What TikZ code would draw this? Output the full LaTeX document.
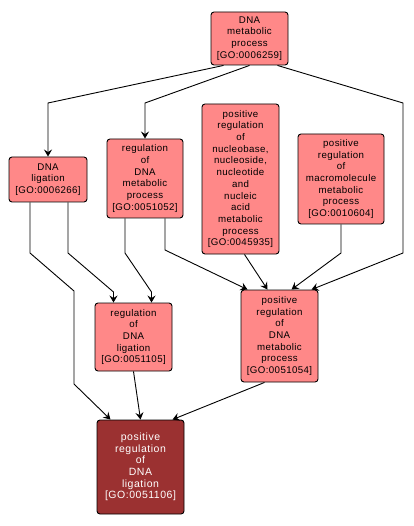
\documentclass[tikz,border=0pt]{standalone}
\usepackage{fontspec}
\usepackage{xcolor}
\usepackage{tikz}
\usetikzlibrary{arrows.meta}

\newfontfamily\gofont{Liberation Sans}[LetterSpace=4.0]
\newfontfamily\gofontwide{Liberation Sans}[LetterSpace=5.0]
\definecolor{goPink}{RGB}{255,136,136}
\definecolor{goDark}{RGB}{155,49,49}

\begin{document}
\begin{tikzpicture}[
    x=1pt, y=-1pt,
    every node/.style={inner sep=0pt, align=center},
    term/.style={draw=black, line width=0.9pt, fill=goPink, rounded corners=3pt,
        font={\gofont\fontsize{9.7}{11.7}\selectfont}},
    goal/.style={draw=black, line width=0.9pt, fill=goDark, rounded corners=3pt, text=white,
        font={\gofontwide\fontsize{10.5}{11.7}\selectfont}},
    edge/.style={-{Stealth[length=7pt,width=8pt,inset=2.5pt]}, line width=0.9pt}
]
    \useasboundingbox (0,0) rectangle (413,526);

    % terms
    \node[term, minimum width=77pt, minimum height=53pt]  (n6259)  at (249.5,38.5) {DNA\\metabolic\\process\\{[}GO:0006259{]}};
    \node[term, minimum width=78pt, minimum height=45pt]  (n6266)  at (48,179.5)   {DNA\\ligation\\{[}GO:0006266{]}};
    \node[term, minimum width=76pt, minimum height=79pt]  (n51052) at (145,178.5)  {regulation\\of\\DNA\\metabolic\\process\\{[}GO:0051052{]}};
    \node[term, minimum width=77pt, minimum height=150pt] (n45935) at (240.5,179)  {positive\\regulation\\of\\nucleobase,\\nucleoside,\\nucleotide\\and\\nucleic\\acid\\metabolic\\process\\{[}GO:0045935{]}};
    \node[term, minimum width=86pt, minimum height=90pt]  (n10604) at (341,179)    {positive\\regulation\\of\\macromolecule\\metabolic\\process\\{[}GO:0010604{]}};
    \node[term, minimum width=77pt, minimum height=68pt]  (n51105) at (133.5,337)  {regulation\\of\\DNA\\ligation\\{[}GO:0051105{]}};
    \node[term, minimum width=77pt, minimum height=92pt]  (n51054) at (279.5,336)  {positive\\regulation\\of\\DNA\\metabolic\\process\\{[}GO:0051054{]}};
    \node[goal, minimum width=87pt, minimum height=94pt]  (n51106) at (140.5,467)  {positive\\regulation\\of\\DNA\\ligation\\{[}GO:0051106{]}};

    % is_a / regulates links
    \draw[edge] ([xshift=-26pt]n6259.south) -- (48,103) -- (n6266.north);
    \draw[edge] (n6259.south) -- (145,103) -- (n51052.north);
    \draw[edge] ([xshift=28pt]n6259.south) -- (403,103) -- (403,253) -- ([xshift=32pt]n51054.north);
    \draw[edge] (n10604.south) -- (341,253) -- ([xshift=12pt]n51054.north);
    \draw[edge] ([xshift=4pt]n45935.south) -- ([xshift=-12pt]n51054.north);
    \draw[edge] ([xshift=20pt]n51052.south) -- (165,250) -- ([xshift=-32pt]n51054.north);
    \draw[edge] ([xshift=-20pt]n51052.south) -- (125,253) -- (151.5,292) -- ([xshift=18pt]n51105.north);
    \draw[edge] ([xshift=20pt]n6266.south) -- (68,253) -- (113.5,292) -- ([xshift=-20pt]n51105.north);
    \draw[edge] ([xshift=-18pt]n6266.south) -- (30,253) -- (74,291) -- (74,384) -- ([xshift=-30pt]n51106.north);
    \draw[edge] (n51105.south) -- (n51106.north);
    \draw[edge] ([xshift=-15pt]n51054.south) -- ([xshift=32pt]n51106.north);
\end{tikzpicture}
\end{document}
